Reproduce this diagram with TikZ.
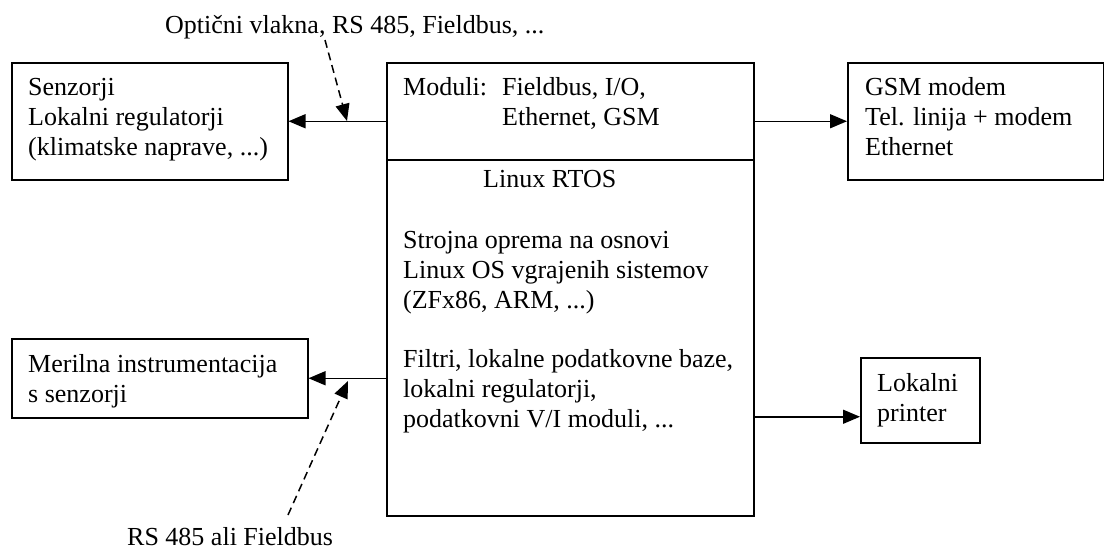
\documentclass[tikz,border=0pt]{standalone}
\usepackage{fontspec}
\setmainfont{Liberation Serif}
\usetikzlibrary{arrows.meta,calc}

% multi-line texts are placed by the baseline of their last line
\tikzset{
  box/.style={draw, line width=1.5pt, inner sep=0pt, anchor=north west},
  txt/.style={anchor=base west, align=left, inner sep=0pt,
              font=\fontsize{26}{30}\selectfont},
  arr/.style={line width=1.5pt, -{Triangle[length=17pt,width=14pt]}},
  darr/.style={line width=1.5pt, dash pattern=on 8pt off 5pt,
               -{Triangle[length=17pt,width=14pt]}},
}

\begin{document}
\begin{tikzpicture}[x=1pt, y=-1pt]
\useasboundingbox (0,0) rectangle (1104,549);

% boxes
\node[box, minimum width=276pt, minimum height=117pt] (senz) at (11,62) {};
\node[box, minimum width=367pt, minimum height=453pt] (cpu) at (386,62) {};
\node[box, minimum width=256pt, minimum height=117pt] (gsm) at (847,62) {};
\node[box, minimum width=296pt, minimum height=79pt] (meril) at (11,338) {};
\node[box, minimum width=119pt, minimum height=85pt] (printer) at (860,357) {};

% divider between module layer and RTOS layer
\coordinate (divl) at (386,160);
\draw[line width=1.5pt] (divl) -- (divl -| cpu.east);

% box texts
\node[txt] (tsenz) at (28,155) {Senzorji\\Lokalni regulatorji\\(klimatske naprave, ...)};
\node[txt] (tmod) at (403,95) {Moduli:};
\node[txt] (tmodl) at (502,125) {Fieldbus, I/O,\\Ethernet, GSM};
\node[txt] (trtos) at (483,187) {Linux RTOS};
\node[txt] (thw) at (403,308) {Strojna oprema na osnovi\\Linux OS vgrajenih sistemov\\(ZFx86, ARM, ...)};
\node[txt] (tfil) at (403,427) {Filtri, lokalne podatkovne baze,\\lokalni regulatorji,\\podatkovni V/I moduli, ...};
\node[txt] (tgsm) at (865,155) {GSM modem\\Tel. linija + modem\\Ethernet};
\node[txt] (tmer) at (28,402) {Merilna instrumentacija\\s senzorji};
\node[txt] (tprt) at (877,421) {Lokalni\\printer};

% free labels
\node[txt] (lopt) at (165,33) {Optični vlakna, RS 485, Fieldbus, ...};
\node[txt] (lrs) at (127,545) {RS 485 ali Fieldbus};

% connectors
\draw[arr] (senz.east -| cpu.west) -- (senz.east);
\draw[arr] (gsm.west -| cpu.east) -- (gsm.west);
\draw[arr] (meril.east -| cpu.west) -- (meril.east);
\coordinate (pin) at ([yshift=-16.5pt]printer.west);
\draw[arr] (pin -| cpu.east) -- (pin);

% dashed link annotations
\coordinate (o1) at (325,40);
\coordinate (o2) at (347,121);
\draw[darr] (o1) -- (o2);
\coordinate (r1) at (288,515);
\coordinate (r2) at (348,381);
\draw[darr] (r1) -- (r2);
\end{tikzpicture}
\end{document}
